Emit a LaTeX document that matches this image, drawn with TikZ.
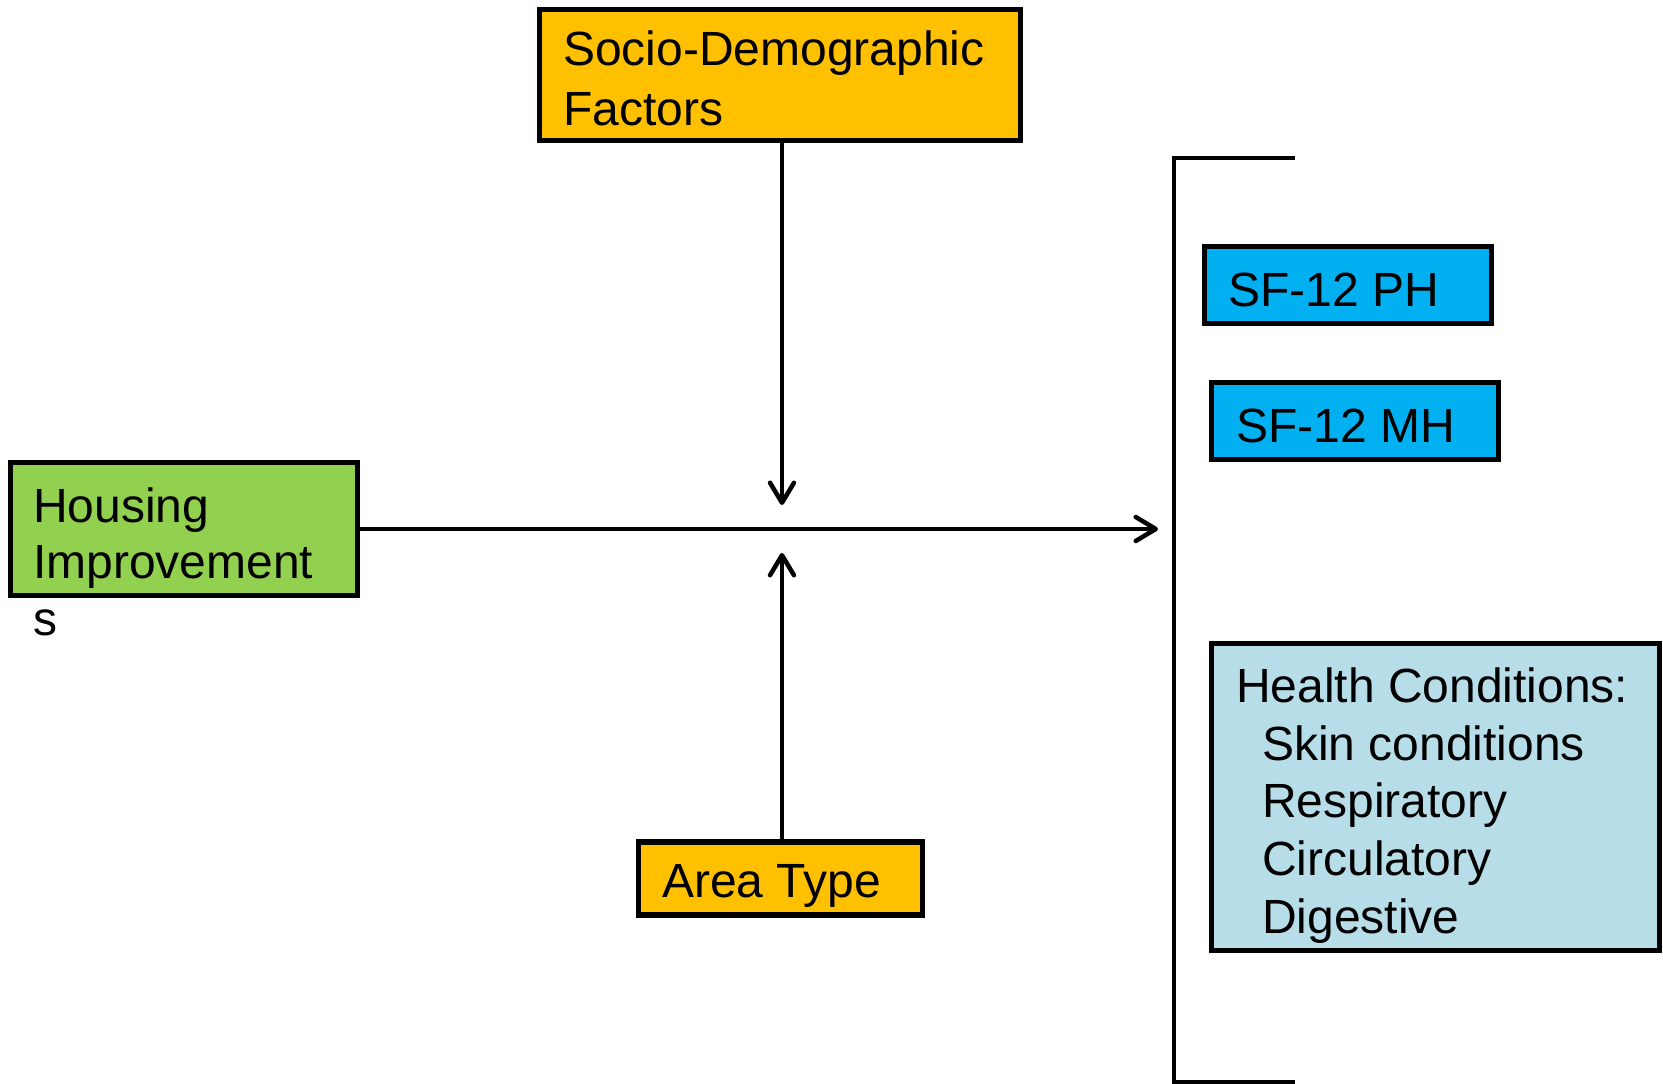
\documentclass[tikz,border=0pt]{standalone}
\usepackage{fontspec}
\setmainfont{Liberation Sans}
\usetikzlibrary{arrows.meta}
\definecolor{orangebox}{HTML}{FFC000}
\definecolor{greenbox}{HTML}{92D050}
\definecolor{bluebox}{HTML}{00B0F0}
\definecolor{tealbox}{HTML}{B7DEE8}
\begin{document}
\begin{tikzpicture}[x=1pt,y=-1pt,
  box/.style={draw=black, line width=5.5pt, rectangle, inner sep=0pt},
  txt/.style={anchor=base west, inner sep=0pt, font=\fontsize{48}{57}\selectfont},
  conn/.style={line width=4.5pt, -{Straight Barb[length=20pt,width=24pt,line cap=round,line join=round]}},
  bracketline/.style={line width=4.5pt}]
\useasboundingbox (0,0) rectangle (1663,1084);
% boxes
\node[box, fill=orangebox, minimum width=481pt, minimum height=131pt] (socio) at (780,75) {};
\node[box, fill=greenbox, minimum width=347pt, minimum height=133pt] (housing) at (184,529) {};
\node[box, fill=orangebox, minimum width=284pt, minimum height=73pt] (area) at (780.5,878.5) {};
\node[box, fill=bluebox, minimum width=287pt, minimum height=77pt] (ph) at (1348,285) {};
\node[box, fill=bluebox, minimum width=287pt, minimum height=77pt] (mh) at (1355,421) {};
\node[box, fill=tealbox, minimum width=448pt, minimum height=307pt] (health) at (1435.5,797) {};
% texts
\node[txt] (socioA) at (563,65) {Socio-Demographic};
\node[txt] (socioB) at (563,125) {Factors};
\node[txt] (housA) at (33,522) {Housing};
\node[txt] (housB) at (33,578) {Improvement};
\node[txt] (housC) at (33,635) {s};
\node[txt] (areaT) at (662,897) {Area Type};
\node[txt] (phT) at (1228,306) {SF-12 PH};
\node[txt] (mhT) at (1236,442) {SF-12 MH};
\node[txt] (hA) at (1236,702) {Health Conditions:};
\node[txt] (hB) at (1262,760) {Skin conditions};
\node[txt] (hC) at (1262,817) {Respiratory};
\node[txt] (hD) at (1262,875) {Circulatory};
\node[txt] (hE) at (1262,933) {Digestive};
% connectors
\coordinate (tipR) at (1158,529);
\coordinate (tipD) at (782,505);
\coordinate (tipU) at (782,553);
\draw[conn] (housing.east) -- (tipR);
\draw[conn] (socio.south -| tipD) -- (tipD);
\draw[conn] (area.north -| tipU) -- (tipU);
% bracket
\coordinate (brTop) at (1295,158);
\coordinate (brBot) at (1295,1082);
\draw[bracketline] (brTop) -- (1174,158) -- (1174,1082) -- (brBot);
\end{tikzpicture}
\end{document}
